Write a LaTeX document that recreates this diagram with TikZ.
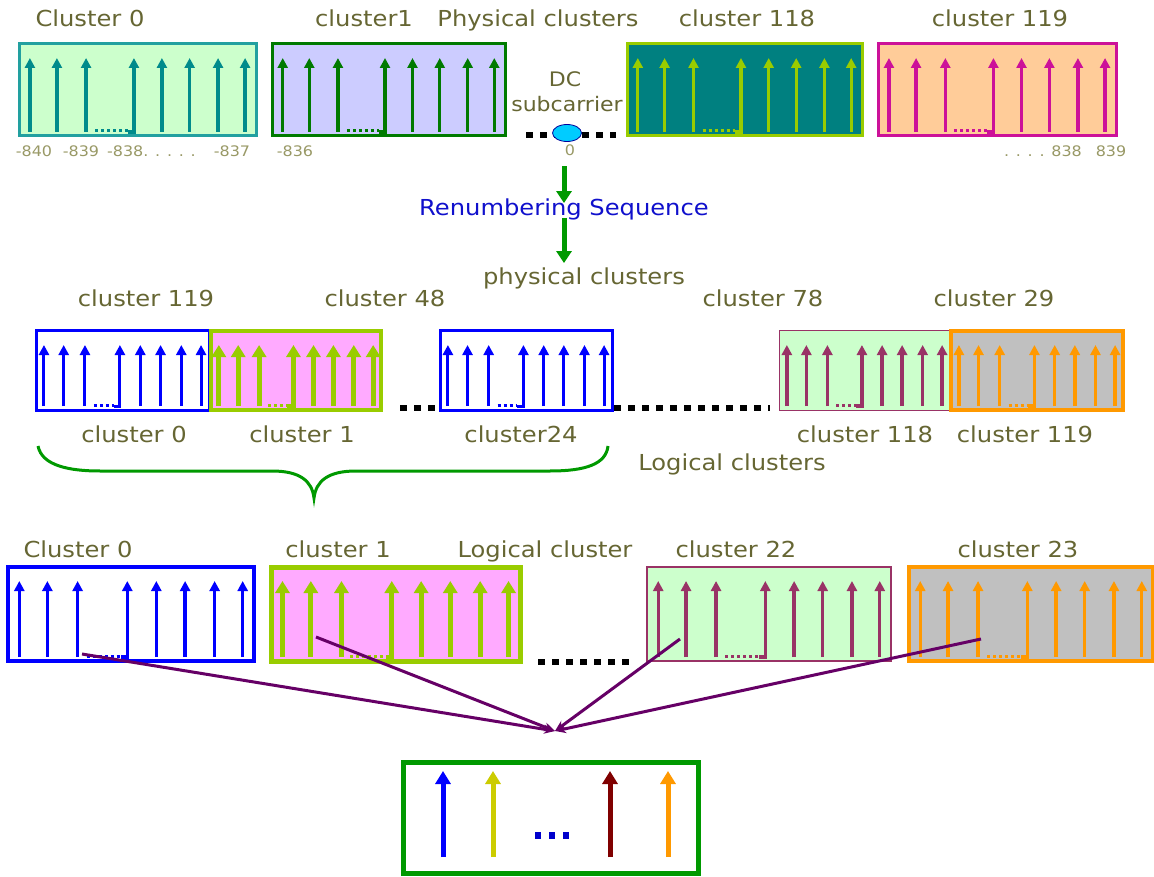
\documentclass[tikz,border=0pt]{standalone}
\usepackage{fontspec}
\setmainfont[FakeStretch=1.1]{DejaVu Sans}
\usetikzlibrary{arrows.meta,calc,shapes.geometric}

\definecolor{txt}{HTML}{666633}
\definecolor{numc}{HTML}{999966}
\definecolor{rblue}{HTML}{1010CC}
\definecolor{tealb}{HTML}{22A0A0}
\definecolor{teala}{HTML}{008B8B}
\definecolor{lgreen}{HTML}{CCFFCC}
\definecolor{dgreen}{HTML}{007A00}
\definecolor{lavender}{HTML}{CCCCFF}
\definecolor{ygreen}{HTML}{99CC00}
\definecolor{tealf}{HTML}{008080}
\definecolor{magentab}{HTML}{CC1199}
\definecolor{peach}{HTML}{FFCC99}
\definecolor{blueb}{HTML}{0000FF}
\definecolor{pinkf}{HTML}{FFAAFF}
\definecolor{maroonb}{HTML}{993366}
\definecolor{orangeb}{HTML}{FF9900}
\definecolor{grayf}{HTML}{C0C0C0}
\definecolor{purplel}{HTML}{660066}
\definecolor{greenb}{HTML}{009900}
\definecolor{yellowa}{HTML}{CCCC00}
\definecolor{darkred}{HTML}{800000}
\definecolor{dcfill}{HTML}{00CCFF}

% One cluster: a box with eight subcarrier arrows and a dotted gap
% #1 name, #2 left, #3 top, #4 right, #5 bottom, #6 box style, #7 arrow style
\newcommand\clusterbox[7]{%
  \pgfmathsetmacro\cbw{#4-#2}%
  \pgfmathsetmacro\cbh{#5-#3}%
  \node[cbox, #6, minimum width=\cbw pt, minimum height=\cbh pt] (#1) at ({(#2+#4)/2},{(#3+#5)/2}) {};
  \foreach \f in {0.046,0.160,0.283,0.603,0.720,0.840,0.954}
    \draw[#7] ({#2+\f*\cbw},{#5-4}) -- ({#2+\f*\cbw},{#3+14});
  \pgfmathsetmacro\xc{#2+0.283*\cbw}%
  \pgfmathsetmacro\xd{#2+0.485*\cbw}%
  \draw[#7] ({\xd-6},{#5-4}) -- (\xd,{#5-4}) -- (\xd,{#3+14});
  \draw[#7, -, line width=3pt, dash pattern=on 3pt off 3pt] ({\xc+9},{#5-5}) -- ({\xd-6},{#5-5});
}

\begin{document}
\begin{tikzpicture}[x=1pt, y=-1pt,
  cbox/.style={rectangle, inner sep=0pt, outer sep=0pt},
  sc/.style={line width=3.3pt, -{Triangle[length=10pt,width=10pt]}},
  scbig/.style={line width=5pt, -{Triangle[length=12pt,width=14pt]}},
  lab/.style={anchor=base, inner sep=0pt, text=txt, font=\fontsize{22}{26}\selectfont},
  numlab/.style={anchor=base, inner sep=0pt, text=numc, font=\fontsize{14.5}{16}\selectfont},
  sqdots/.style={line width=6pt, dash pattern=on 7pt off 7pt, black},
  garrow/.style={greenb, line width=5pt, -{Triangle[length=12pt,width=15pt]}},
  merge/.style={purplel, line width=3pt, -{Stealth[length=11pt,width=9pt]}},
  outarrow/.style={line width=5pt, -{Triangle[length=13pt,width=15pt]}}]
\useasboundingbox[fill=white] (0,0) rectangle (1154,877);

% ---------- physical clusters ----------
\node[lab] (tl0) at (90,27) {Cluster 0};
\node[lab] (tl1) at (364,27) {cluster1};
\node[lab] (tlphys) at (538,27) {Physical clusters};
\node[lab] (tl118) at (747,27) {cluster 118};
\node[lab] (tl119) at (1000,27) {cluster 119};

\clusterbox{p0}{19}{44}{256}{136}{draw=tealb, fill=lgreen, line width=3pt}{sc, color=teala}
\clusterbox{p1}{272}{44}{505}{136}{draw=dgreen, fill=lavender, line width=3pt}{sc, color=dgreen}
\clusterbox{p118}{627}{44}{862}{136}{draw=ygreen, fill=tealf, line width=3pt}{sc, color=ygreen}
\clusterbox{p119}{878}{44}{1116}{136}{draw=magentab, fill=peach, line width=3pt}{sc, color=magentab}

% DC subcarrier
\node[lab, font=\fontsize{20}{24}\selectfont] (dc1) at (565,87) {DC};
\node[lab, font=\fontsize{20}{24}\selectfont] (dc2) at (567,112) {subcarrier};
\draw[sqdots] (526,135) -- (616,135);
\node[ellipse, draw=blue!60!black, line width=0.8pt, fill=dcfill, minimum width=29pt, minimum height=17pt, inner sep=0pt] (dc) at (567,133) {};

% subcarrier indices
\node[numlab] (n840) at (34,157) {-840};
\node[numlab] (n839) at (81,157) {-839};
\node[numlab, anchor=base west] (n838) at (107,157) {-838. . . . .};
\node[numlab] (n837) at (232,157) {-837};
\node[numlab] (n836) at (295,157) {-836};
\node[numlab] (zero) at (570,156) {0};
\node[numlab, anchor=base east] (n838p) at (1082,157) {. . . . 838};
\node[numlab] (n839p) at (1111,157) {839};

% renumbering
\node[lab, text=rblue] (renum) at (564,216) {Renumbering Sequence};
\node[lab] (physlab) at (584,285) {physical clusters};
\draw[garrow, shorten <=10pt, shorten >=-4pt] (renum.north |- zero.south) -- (renum.north);
\draw[garrow, shorten <=-3pt, shorten >=5pt] (renum.south) -- (renum.south |- physlab.north);

% ---------- renumbered clusters ----------
\node[lab] (m119) at (146,307) {cluster 119};
\node[lab] (m48) at (385,307) {cluster 48};
\node[lab] (m78) at (763,307) {cluster 78};
\node[lab] (m29) at (994,307) {cluster 29};

\clusterbox{lA}{36}{331}{209}{410}{draw=blueb, fill=white, line width=3pt}{sc, color=blueb, line width=3pt}
\clusterbox{lB}{211}{331}{381}{410}{draw=ygreen, fill=pinkf, line width=4pt}{scbig, color=ygreen}
\clusterbox{lC}{440}{331}{612}{410}{draw=blueb, fill=white, line width=3pt}{sc, color=blueb, line width=3pt}
\clusterbox{lD}{779}{331}{950}{410}{draw=maroonb, fill=lgreen, line width=1pt}{sc, color=maroonb}
\clusterbox{lE}{951}{331}{1123}{410}{draw=orangeb, fill=grayf, line width=3.5pt}{sc, color=orangeb}

\draw[sqdots] (400,408) -- (438,408);
\draw[sqdots] (614,408) -- (770,408);

\node[lab] (lg0) at (134,442) {cluster 0};
\node[lab] (lg1) at (302,442) {cluster 1};
\node[lab] (lg24) at (521,442) {cluster24};
\node[lab] (lg118) at (865,442) {cluster 118};
\node[lab] (lg119) at (1025,442) {cluster 119};
\node[lab] (logclusters) at (732,470) {Logical clusters};

% brace over the first logical clusters
\draw[greenb, line width=3pt]
  (38,446) .. controls (42,466) and (70,471) .. (100,471) -- (272,471)
  .. controls (300,471) and (312,481) .. (314,498)
  .. controls (316,481) and (328,471) .. (356,471) -- (550,471)
  .. controls (586,471) and (606,464) .. (608,446);

% ---------- logical clusters ----------
\node[lab] (b0) at (78,557) {Cluster 0};
\node[lab] (b1) at (338,557) {cluster 1};
\node[lab] (blog) at (545,557) {Logical cluster};
\node[lab] (b22) at (736,557) {cluster 22};
\node[lab] (b23) at (1018,557) {cluster 23};

\clusterbox{bF}{8}{567}{254}{661}{draw=blueb, fill=white, line width=3.5pt}{sc, color=blueb}
\clusterbox{bG}{271}{567}{520}{661}{draw=ygreen, fill=pinkf, line width=5pt}{scbig, color=ygreen}
\clusterbox{bH}{647}{567}{891}{661}{draw=maroonb, fill=lgreen, line width=1.5pt}{sc, color=maroonb}
\clusterbox{bI}{909}{567}{1153}{661}{draw=orangeb, fill=grayf, line width=4pt}{sc, color=orangeb}

\draw[sqdots] (538,662) -- (636,662);

% one subcarrier taken from each logical cluster
\coordinate (sF) at (82,654);
\coordinate (sG) at (316,637);
\coordinate (sH) at (680,639);
\coordinate (sI) at (981,639);
\coordinate (mix) at (555,731);
\draw[merge] (sF) -- (mix);
\draw[merge] (sG) -- (mix);
\draw[merge] (sH) -- (mix);
\draw[merge] (sI) -- (mix);

% resulting subchannel
\node[cbox, draw=greenb, line width=5pt, fill=white, minimum width=295pt, minimum height=111pt] (sub) at (550.5,818) {};
\draw[outarrow, color=blueb] (443,857) -- (443,771);
\draw[outarrow, color=yellowa] (493,857) -- (493,771);
\draw[outarrow, color=darkred] (610,857) -- (610,771);
\draw[outarrow, color=orangeb] (668,857) -- (668,771);
\draw[color=blue!80!black, line width=7pt, dash pattern=on 6pt off 8pt] (535,835) -- (570,835);
\end{tikzpicture}
\end{document}
